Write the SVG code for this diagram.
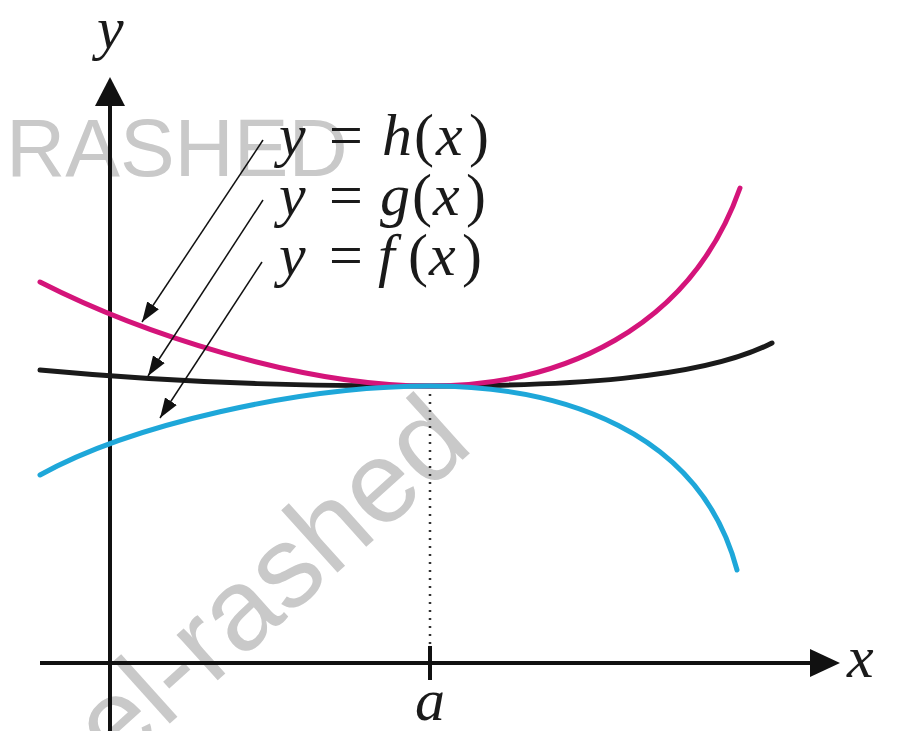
<svg xmlns="http://www.w3.org/2000/svg" width="905" height="731" viewBox="0 0 905 731">
<style>
.wm{font-family:"Liberation Sans",Arial,sans-serif;fill:#c9c9c9}
.m{font-family:"Liberation Serif","Times New Roman",serif;font-size:60px;fill:#1a1a1a}
.i{font-style:italic}
.ax{stroke:#111;stroke-width:4;fill:none}
.cv{fill:none;stroke-width:5;stroke-linecap:round}
.ld{stroke:#111;stroke-width:1.5;fill:none}
</style>
<defs>
<marker id="ah" markerUnits="userSpaceOnUse" markerWidth="22" markerHeight="16" refX="20" refY="8" orient="auto">
<path d="M0,1 L20,8 L0,15 Z" fill="#111"/>
</marker>
</defs>
<rect width="905" height="731" fill="#fff"/>
<g id="watermarks">
<text class="wm" x="6" y="176" font-size="82">RASHED</text>
<text class="wm" x="0" y="0" font-size="116" transform="translate(116,772) rotate(-42)">el-rashed</text>
</g>
<g id="axes">
<line class="ax" x1="110" y1="731" x2="110" y2="100"/>
<path d="M110,77 L125,106 L95,106 Z" fill="#111"/>
<line class="ax" x1="40" y1="663" x2="815" y2="663"/>
<path d="M840,663 L810,649 L810,677 Z" fill="#111"/>
<line class="ax" x1="430" y1="646" x2="430" y2="680"/>
<line x1="430" y1="394" x2="430" y2="644" stroke="#333" stroke-width="2.5" stroke-dasharray="2,6"/>
</g>
<g id="curves">
<path id="g" class="cv" stroke="#1a1a1a" d="M40,370 C200,385 330,386 430,386 C560,386 700,380 772,343"/>
<path id="h" class="cv" stroke="#d4147a" d="M40,282 C140,333 300,386 430,386 C560,386 690,330 740,188"/>
<path id="f" class="cv" stroke="#1ea7d9" d="M40,475 C130,425 300,386 430,386 C560,386 700,430 737,570"/>
</g>
<g id="connectors">
<line class="ld" x1="263" y1="140" x2="142" y2="322" marker-end="url(#ah)"/>
<line class="ld" x1="263" y1="200" x2="148" y2="376" marker-end="url(#ah)"/>
<line class="ld" x1="262" y1="262" x2="160" y2="418" marker-end="url(#ah)"/>
</g>
<g id="labels">
<text class="m" y="155"><tspan class="i" x="279">y</tspan><tspan x="329">=</tspan><tspan class="i" x="382">h</tspan><tspan x="414">(</tspan><tspan class="i" x="436">x</tspan><tspan x="469">)</tspan></text>
<text class="m" y="215"><tspan class="i" x="279">y</tspan><tspan x="329">=</tspan><tspan class="i" x="380">g</tspan><tspan x="412">(</tspan><tspan class="i" x="433">x</tspan><tspan x="466">)</tspan></text>
<text class="m" y="275"><tspan class="i" x="279">y</tspan><tspan x="329">=</tspan><tspan class="i" x="378">f</tspan><tspan x="408">(</tspan><tspan class="i" x="429">x</tspan><tspan x="462">)</tspan></text>
<text class="m i" x="97" y="48" font-size="56">y</text>
<text class="m i" x="847" y="677">x</text>
<text class="m i" x="415" y="720">a</text>
</g>
</svg>
